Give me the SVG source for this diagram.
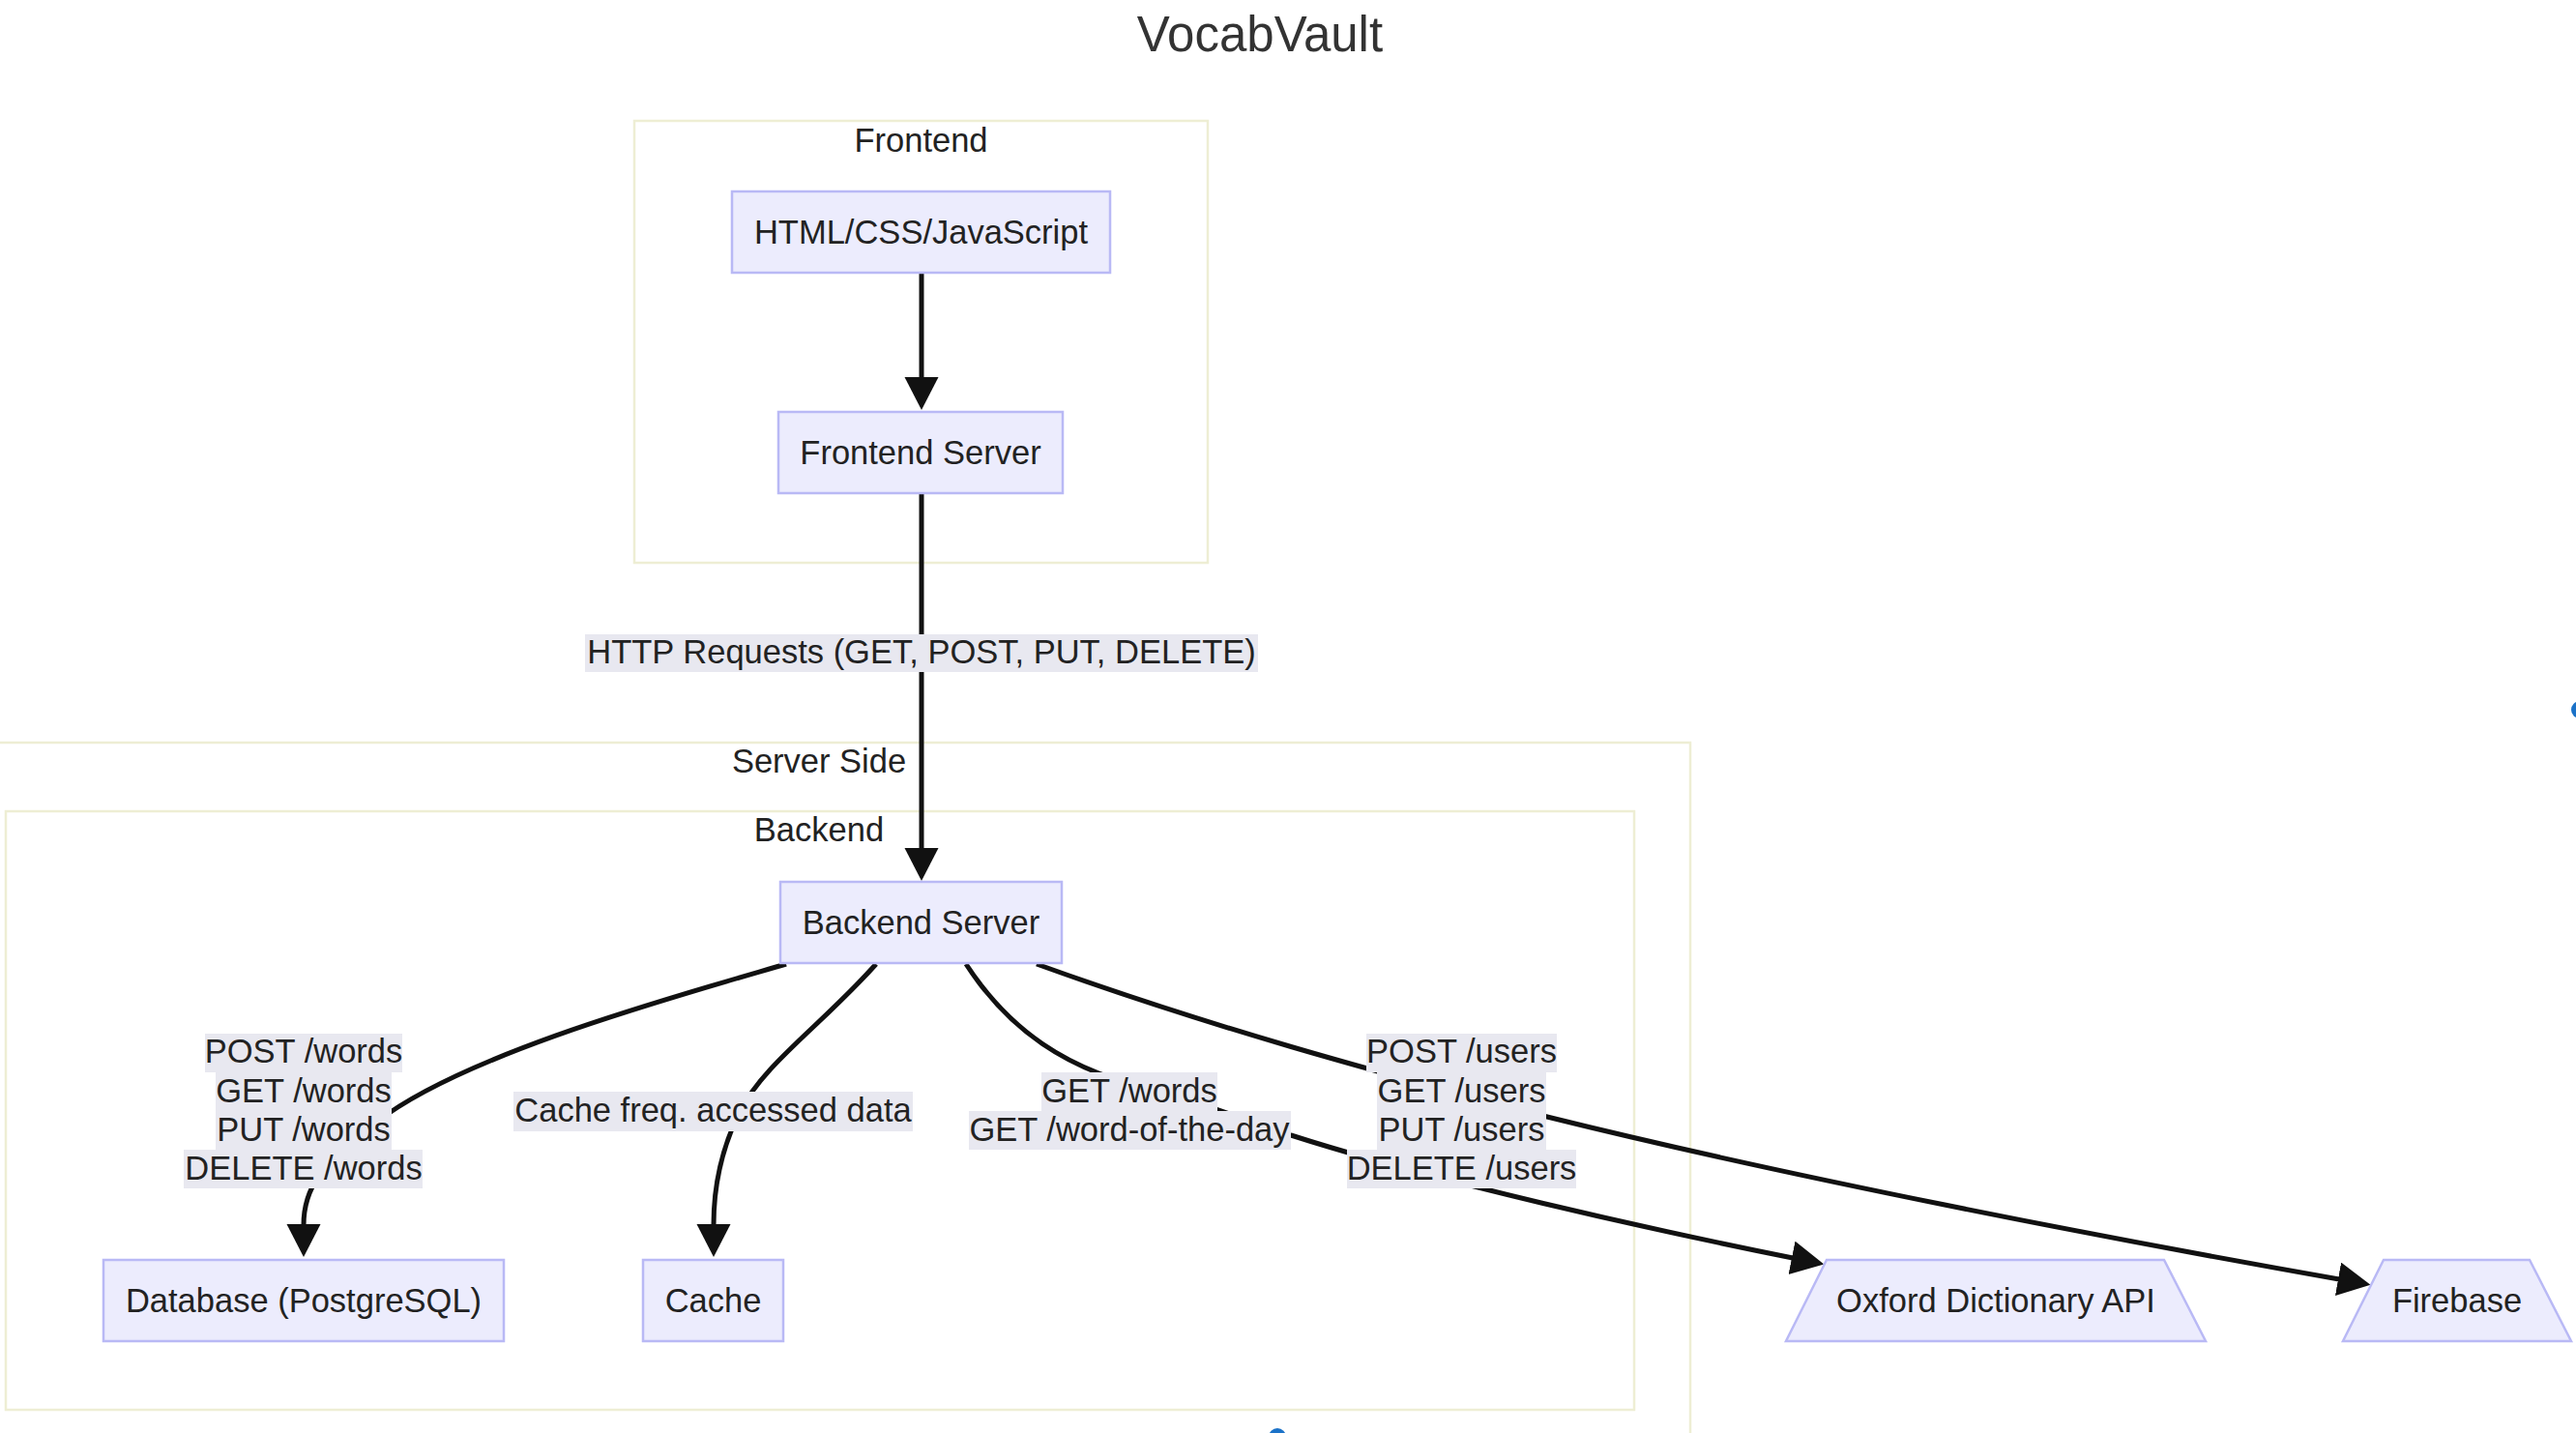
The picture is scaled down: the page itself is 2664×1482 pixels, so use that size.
<svg xmlns="http://www.w3.org/2000/svg" width="2664" height="1482" viewBox="0 0 2664 1482">
<style>
  text { font-family: "Liberation Sans", Arial, sans-serif; font-size: 34.5px; fill: #222; text-anchor: middle; }
  .title { font-size: 51px; fill: #333; }
  .cluster { fill: #ffffff; stroke: #eeeed4; stroke-width: 2.5; }
  .node { fill: #ececfd; stroke: #b9b9f5; stroke-width: 2.5; }
  .edge { fill: none; stroke: #111; stroke-width: 5; }
  .lbl { fill: #e8e8f0; }
  .dot { fill: #1b72c8; }
</style>
<defs>
  <marker id="arrow" markerUnits="userSpaceOnUse" markerWidth="36" markerHeight="36" refX="1" refY="17.5" orient="auto">
    <path d="M0,0 L34,17.5 L0,35 z" fill="#111"/>
  </marker>
</defs>
<rect width="2664" height="1482" fill="#ffffff"/>
<text class="title" x="1303" y="53">VocabVault</text>

<g id="cluster-serverside">
  <rect class="cluster" x="-50" y="768" width="1798" height="800"/>
  <text x="847" y="799">Server Side</text>
</g>
<g id="cluster-backend">
  <rect class="cluster" x="6" y="839" width="1684" height="619"/>
  <text x="847" y="870">Backend</text>
</g>
<g id="cluster-frontend">
  <rect class="cluster" x="656" y="125" width="593" height="457"/>
  <text x="952.5" y="157">Frontend</text>
</g>

<g id="connectors">
  <path class="edge" marker-end="url(#arrow)" d="M953,282 L953,391"/>
  <path class="edge" marker-end="url(#arrow)" d="M953,511 L953,878"/>
  <path class="edge" marker-end="url(#arrow)" d="M813,997 C700,1030 480,1090 390,1160 C330,1205 314,1230 314,1267"/>
  <path class="edge" marker-end="url(#arrow)" d="M906,997 C850,1060 790,1100 765,1150 C745,1190 738,1230 738,1267"/>
  <path class="edge" marker-end="url(#arrow)" d="M999,997 C1040,1060 1100,1110 1205,1129 L1335,1174 C1485,1222 1705,1271 1854,1301"/>
  <path class="edge" marker-end="url(#arrow)" d="M1072,997 C1252,1062 1420,1108 1600,1155 C1850,1217 2170,1279 2419,1323"/>

  <g id="label-http">
    <rect class="lbl" x="605" y="656" width="696" height="39"/>
    <text x="953" y="686">HTTP Requests (GET, POST, PUT, DELETE)</text>
  </g>
  <g id="label-db">
    <rect class="lbl" x="212" y="1069" width="204" height="40"/>
    <rect class="lbl" x="223" y="1109" width="182" height="40"/>
    <rect class="lbl" x="223" y="1149" width="182" height="40"/>
    <rect class="lbl" x="190" y="1189" width="247" height="40"/>
    <text x="314" y="1099">POST /words</text>
    <text x="314" y="1139.5">GET /words</text>
    <text x="314" y="1180">PUT /words</text>
    <text x="314" y="1220">DELETE /words</text>
  </g>
  <g id="label-cache">
    <rect class="lbl" x="531" y="1129" width="413" height="41"/>
    <text x="737.5" y="1160">Cache freq. accessed data</text>
  </g>
  <g id="label-oxford">
    <rect class="lbl" x="1077" y="1109" width="182" height="40"/>
    <rect class="lbl" x="1002" y="1149" width="333" height="40"/>
    <text x="1168" y="1139.5">GET /words</text>
    <text x="1168" y="1180">GET /word-of-the-day</text>
  </g>
  <g id="label-users">
    <rect class="lbl" x="1413" y="1069" width="197" height="40"/>
    <rect class="lbl" x="1424" y="1109" width="175" height="40"/>
    <rect class="lbl" x="1424" y="1149" width="175" height="40"/>
    <rect class="lbl" x="1393" y="1189" width="237" height="40"/>
    <text x="1511.5" y="1099">POST /users</text>
    <text x="1511.5" y="1139.5">GET /users</text>
    <text x="1511.5" y="1180">PUT /users</text>
    <text x="1511.5" y="1220">DELETE /users</text>
  </g>
</g>

<g id="node-html">
  <rect class="node" x="757" y="198" width="391" height="84"/>
  <text x="952.5" y="252">HTML/CSS/JavaScript</text>
</g>
<g id="node-frontend-server">
  <rect class="node" x="805" y="426" width="294" height="84"/>
  <text x="952" y="480">Frontend Server</text>
</g>
<g id="node-backend-server">
  <rect class="node" x="807" y="912" width="291" height="84"/>
  <text x="952.5" y="966">Backend Server</text>
</g>
<g id="node-database">
  <rect class="node" x="107" y="1303" width="414" height="84"/>
  <text x="314" y="1357">Database (PostgreSQL)</text>
</g>
<g id="node-cache">
  <rect class="node" x="665" y="1303" width="145" height="84"/>
  <text x="737.5" y="1357">Cache</text>
</g>
<g id="node-oxford">
  <polygon class="node" points="1889,1303 2238,1303 2281,1387 1847,1387"/>
  <text x="2064" y="1357">Oxford Dictionary API</text>
</g>
<g id="node-firebase">
  <polygon class="node" points="2465,1303 2616,1303 2659,1387 2423,1387"/>
  <text x="2541" y="1357">Firebase</text>
</g>

<circle class="dot" cx="2668" cy="734" r="9"/>
<circle class="dot" cx="1321" cy="1486" r="9"/>
</svg>
